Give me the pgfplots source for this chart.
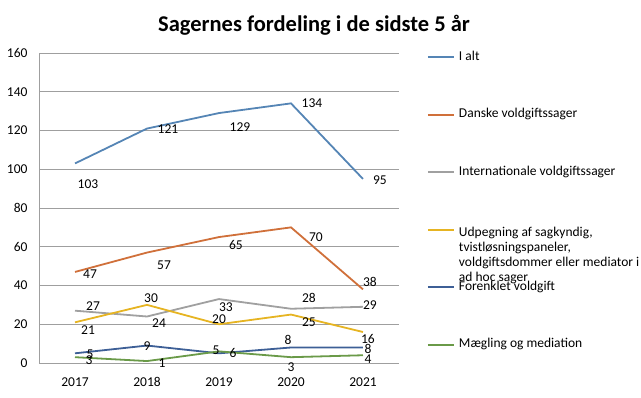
\documentclass[border=0pt]{standalone}
\usepackage{fontspec}
\setmainfont{Carlito}
\usepackage{pgfplots}
\pgfplotsset{compat=1.18}
\usepackage{pgfplotstable}

\definecolor{cAlt}{HTML}{5585B5}
\definecolor{cDk}{HTML}{D0703A}
\definecolor{cInt}{HTML}{A0A0A0}
\definecolor{cUdp}{HTML}{E6B422}
\definecolor{cFor}{HTML}{3D5F96}
\definecolor{cMae}{HTML}{6A9A48}

\pgfplotstableread{
x y dx dy
0 103 13 -21
1 121 21 -1
2 129 21 -14
3 134 21 0
4 95 17 -1
}\ialt
\pgfplotstableread{
x y dx dy
0 47 15 -2
1 57 17 -13
2 65 17 -8
3 70 25 -10
4 38 7 7
}\dansk
\pgfplotstableread{
x y dx dy
0 27 18 5
1 24 12 -6.5
2 33 7 -8
3 28 18 11
4 29 7 2
}\intl
\pgfplotstableread{
x y dx dy
0 21 13 -8
1 30 4 7
2 20 0 5
3 25 18 -8
4 16 5 -7
}\udp
\pgfplotstableread{
x y dx dy
0 5 15 -1
1 9 0 -1
2 5 -3 3
3 8 -3 8
4 8 5 -1
}\forenk
\pgfplotstableread{
x y dx dy
0 3 14 -3
1 1 15 -2
2 6 14 -2
3 3 0 -10
4 4 5 -4
}\maeg

\begin{document}
\begin{tikzpicture}
\path[use as bounding box] (0,0) rectangle (641pt,397pt);
\node[font=\bfseries\fontsize{22.5}{24}\selectfont] at (314pt,372pt) {Sagernes fordeling i de sidste 5 år};
\begin{axis}[
  at={(39pt,34pt)}, anchor=south west,
  scale only axis, width=360pt, height=310pt,
  xmin=-0.5, xmax=4.5, ymin=0, ymax=160,
  ytick={0,20,...,160},
  xtick={0,1,2,3,4}, xticklabels={2017,2018,2019,2020,2021},
  axis lines*=left,
  axis line style={draw=gray!75, line width=0.8pt},
  ymajorgrids, grid style={draw=gray!75, line width=0.8pt},
  major tick length=0pt,
  tick label style={font=\fontsize{13.5}{15}\selectfont},
  yticklabel style={xshift=-8pt},
  xticklabel style={yshift=-11pt},
  /pgf/number format/assume math mode=true,
  clip=false,
  every axis plot/.append style={line width=1.8pt, mark=none},
  point meta=explicit,
  nodes near coords={\pgfmathprintnumber{\pgfplotspointmeta}},
  visualization depends on={\thisrow{dx} \as \dx},
  visualization depends on={\thisrow{dy} \as \dy},
  nodes near coords style={anchor=center, inner sep=0pt, text=black, font=\fontsize{13.5}{15}\selectfont, xshift=\dx pt, yshift=\dy pt},
  legend cell align=left,
  legend image code/.code={\draw[#1, line width=2pt] (0pt,0pt) -- (26pt,0pt);},
  legend style={at={(1,1)}, anchor=north west, xshift=28pt, yshift=2pt,
    draw=none, fill=none, inner sep=0pt, outer sep=0pt,
    row sep=45.5pt, column sep=4pt,
    nodes={inner sep=0pt, text height=9pt, text depth=3pt, anchor=west},
    font=\fontsize{13.5}{15}\selectfont},
]
\addplot[cAlt] table[x=x, y=y, meta=y] {\ialt};
\addlegendentry{I alt}
\addplot[cDk] table[x=x, y=y, meta=y] {\dansk};
\addlegendentry{Danske voldgiftssager}
\addplot[cInt] table[x=x, y=y, meta=y] {\intl};
\addlegendentry{Internationale voldgiftssager}
\addplot[cUdp] table[x=x, y=y, meta=y] {\udp};
\addlegendentry{\raisebox{-4pt}{\parbox[t]{200pt}{\fontsize{13.5}{15}\selectfont Udpegning af sagkyndig,\\ tvistløsningspaneler,\\ voldgiftsdommer eller mediator i\\ ad hoc sager}}}
\addplot[cFor] table[x=x, y=y, meta=y] {\forenk};
\addlegendentry{Forenklet voldgift}
\addplot[cMae] table[x=x, y=y, meta=y] {\maeg};
\addlegendentry{Mægling og mediation}
\end{axis}
\end{tikzpicture}
\end{document}
